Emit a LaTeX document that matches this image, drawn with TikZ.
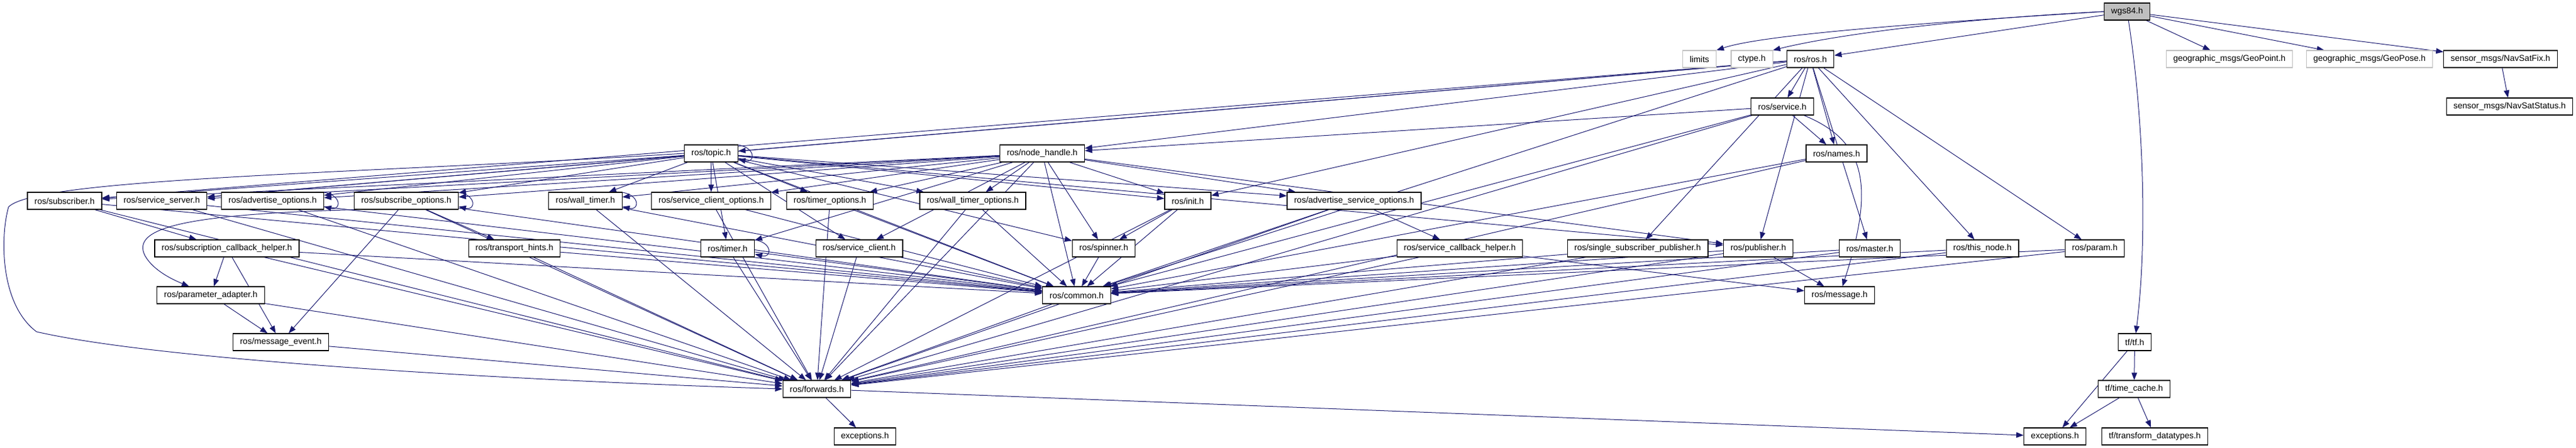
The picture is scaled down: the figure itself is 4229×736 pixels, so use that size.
\documentclass[tikz,border=0pt]{standalone}
\usepackage{fontspec}
\setmainfont{Liberation Sans}
\usetikzlibrary{arrows.meta}
\definecolor{edgeblue}{HTML}{191970}
\definecolor{lgray}{HTML}{BFBFBF}
\pgfdeclarelayer{bg}
\pgfsetlayers{bg,main}
\begin{document}
\begin{tikzpicture}[x=1pt,y=-1pt,
  box/.style={draw=black, line width=1.2pt, fill=white, minimum height=28pt, inner xsep=11.5pt, inner ysep=0pt, font=\fontsize{14}{16}\selectfont},
  gbox/.style={box, draw=lgray},
  fbox/.style={box, fill=lgray},
  edge/.style={draw=edgeblue, line width=1pt, -{Triangle[length=12pt,width=9pt]}}]
\useasboundingbox (0,0) rectangle (4229,736);
% row 0
\node[fbox] (wgs) at (3492,19) {wgs84.h};
% row 1
\node[gbox] (limits) at (2790,97) {limits};
\node[gbox] (ctype) at (2876,97) {ctype.h};
\node[box] (rosros) at (2972,97) {ros/ros.h};
\node[gbox] (geopoint) at (3660,97) {geographic\_msgs/GeoPoint.h};
\node[gbox] (geopose) at (3890,97) {geographic\_msgs/GeoPose.h};
\node[box] (navfix) at (4105,97) {sensor\_msgs/NavSatFix.h};
% row 2
\node[box] (service) at (2926,175) {ros/service.h};
\node[box] (navstat) at (4120,175) {sensor\_msgs/NavSatStatus.h};
% row 3
\node[box] (topic) at (1167.5,252) {ros/topic.h};
\node[box] (nh) at (1711,252) {ros/node\_handle.h};
\node[box] (names) at (3015,252) {ros/names.h};
% row 4
\node[box] (subscriber) at (106,330) {ros/subscriber.h};
\node[box] (srvsrv) at (265.5,330) {ros/service\_server.h};
\node[box] (advopts) at (447.5,330) {ros/advertise\_options.h};
\node[box] (subopts) at (667,330) {ros/subscribe\_options.h};
\node[box] (walltimer) at (961,330) {ros/wall\_timer.h};
\node[box] (scopts) at (1167.5,330) {ros/service\_client\_options.h};
\node[box] (timeropts) at (1362.5,330) {ros/timer\_options.h};
\node[box] (wtopts) at (1597,330) {ros/wall\_timer\_options.h};
\node[box] (init) at (1950,330) {ros/init.h};
\node[box] (asopts) at (2223,330) {ros/advertise\_service\_options.h};
% row 5
\node[box] (scbh) at (372.5,408) {ros/subscription\_callback\_helper.h};
\node[box] (hints) at (844.5,408) {ros/transport\_hints.h};
\node[box] (timer) at (1194.5,408) {ros/timer.h};
\node[box] (sclient) at (1410.5,408) {ros/service\_client.h};
\node[box] (spinner) at (1812,408) {ros/spinner.h};
\node[box] (srvcb) at (2396.5,408) {ros/service\_callback\_helper.h};
\node[box] (ssp) at (2688.5,408) {ros/single\_subscriber\_publisher.h};
\node[box] (publisher) at (2886.5,408) {ros/publisher.h};
\node[box] (master) at (3069.5,408) {ros/master.h};
\node[box] (thisnode) at (3254.5,408) {ros/this\_node.h};
\node[box] (param) at (3439,408) {ros/param.h};
% row 6
\node[box] (padapt) at (346,485) {ros/parameter\_adapter.h};
\node[box] (common) at (1767.5,485) {ros/common.h};
\node[box] (message) at (3020,485) {ros/message.h};
% row 7
\node[box] (msgevent) at (461,562) {ros/message\_event.h};
\node[box] (tf) at (3504.5,562) {tf/tf.h};
% row 8
\node[box] (forwards) at (1341,639) {ros/forwards.h};
\node[box] (timecache) at (3503.5,639) {tf/time\_cache.h};
% row 9
\node[box] (exros) at (1420,717) {exceptions.h};
\node[box] (extf) at (3373.5,717) {exceptions.h};
\node[box] (tdt) at (3537.5,717) {tf/transform\_datatypes.h};

\begin{pgfonlayer}{bg}
\draw[edge] (wgs.west) .. controls (3200,35) and (2900,55) .. (limits.north east);
\draw[edge] (wgs.west) .. controls (3200,32) and (3010,58) .. (ctype.north east);
\foreach \t in {rosros,geopoint,geopose,navfix} \draw[edge] (wgs) -- (\t);
\draw[edge] (wgs) .. controls (3520,200) and (3525,400) .. (tf);
\draw[edge] (navfix) -- (navstat);
\foreach \t in {service,topic,nh,names,subscriber,srvsrv,init,publisher,ssp,master,thisnode,param,common} \draw[edge] (rosros) -- (\t);
\foreach \t in {nh,names,common,forwards} \draw[edge] (service) -- (\t);
\draw[edge] (service) .. controls (3060,230) and (3080,300) .. (message);
\foreach \t in {subscriber,srvsrv,advopts,subopts,walltimer,scopts,timeropts,wtopts,init,asopts,timer,sclient,spinner,publisher,common} \draw[edge] (topic) -- (\t);
\draw[edge] (topic.west) .. controls (600,285) and (60,292) .. (14,340) .. controls (0,390) and (0,500) .. (60,545) .. controls (300,600) and (1000,630) .. (forwards.west);
\foreach \t in {subscriber,srvsrv,advopts,subopts,walltimer,scopts,timeropts,wtopts,init,asopts,timer,sclient,spinner,publisher,common,forwards} \draw[edge] (nh) -- (\t);
\foreach \t in {common,forwards} \draw[edge] (names) -- (\t);
\foreach \t in {scbh,forwards,common} \draw[edge] (subscriber) -- (\t);
\foreach \t in {forwards,common} \draw[edge] (srvsrv) -- (\t);
\foreach \t in {forwards,common} \draw[edge] (advopts) -- (\t);
\foreach \t in {hints,msgevent,forwards,common} \draw[edge] (subopts) -- (\t);
\draw[edge] (subopts.south west) .. controls (300,352) and (215,375) .. (238,420) .. controls (252,445) and (285,460) .. (padapt);
\foreach \t in {forwards,common} \draw[edge] (walltimer) -- (\t);
\foreach \t in {forwards,common} \draw[edge] (scopts) -- (\t);
\foreach \t in {forwards,common} \draw[edge] (timeropts) -- (\t);
\foreach \t in {forwards,common} \draw[edge] (wtopts) -- (\t);
\foreach \t in {spinner,common,forwards} \draw[edge] (init) -- (\t);
\foreach \t in {srvcb,common,forwards} \draw[edge] (asopts) -- (\t);
\foreach \t in {padapt,msgevent,forwards,common} \draw[edge] (scbh) -- (\t);
\foreach \t in {msgevent,forwards} \draw[edge] (padapt) -- (\t);
\draw[edge] (msgevent) -- (forwards);
\foreach \t in {forwards,common} \draw[edge] (hints) -- (\t);
\foreach \t in {forwards,common} \draw[edge] (timer) -- (\t);
\foreach \t in {forwards,common} \draw[edge] (sclient) -- (\t);
\draw[edge] (spinner) -- (common);
\foreach \t in {common,forwards,message} \draw[edge] (srvcb) -- (\t);
\foreach \t in {common,forwards} \draw[edge] (ssp) -- (\t);
\foreach \t in {common,forwards,message} \draw[edge] (publisher) -- (\t);
\foreach \t in {common,forwards} \draw[edge] (master) -- (\t);
\foreach \t in {common,forwards} \draw[edge] (thisnode) -- (\t);
\foreach \t in {common,forwards} \draw[edge] (param) -- (\t);
\draw[edge] (common) -- (forwards);
\draw[edge] (forwards) -- (exros);
\draw[edge] (forwards) -- (extf);
\draw[edge] (tf) -- (extf);
\draw[edge] (tf) -- (timecache);
\draw[edge] (timecache) -- (extf);
\draw[edge] (timecache) -- (tdt);
% self loops
\foreach \n in {topic,advopts,subopts,walltimer,timer}
  \draw[edge] ([xshift=-14pt]\n.north east) .. controls ([xshift=30pt,yshift=2pt]\n.north east) and ([xshift=30pt,yshift=-2pt]\n.south east) .. ([yshift=5pt]\n.south east);
\end{pgfonlayer}
\end{tikzpicture}
\end{document}
